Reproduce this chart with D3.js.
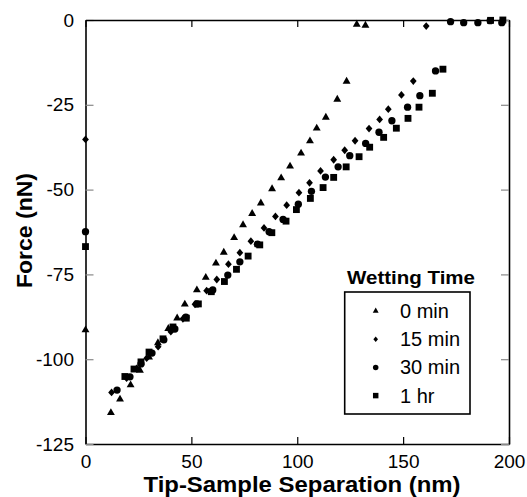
<!DOCTYPE html>
<html>
<head>
<meta charset="utf-8">
<script src="https://cdn.jsdelivr.net/npm/d3@7"></script>
<style>
  body { margin: 0; background: #fff; }
  text { font-family: "Liberation Sans", Arial, sans-serif; }
</style>
</head>
<body>
<div id="chart"></div>
<script>
// tick values
const xTicks = [0, 50, 100, 150, 200];
const yTicks = [0, -25, -50, -75, -100, -125];

// series: [separation nm, force nN]
const min0 = [[0,-91.4],[12.0,-115.8],[16.3,-111.8],[21.3,-107.6],[25.7,-103.3],[30.0,-99.4],[34.2,-95.2],[39.1,-91.0],[43.3,-87.9],[46.9,-83.8],[52.6,-79.6],[56.8,-75.9],[61.6,-71.7],[65.3,-68.5],[70.2,-64.2],[74.4,-60.4],[78.7,-57.1],[82.8,-54.0],[88.1,-49.8],[92.4,-46.6],[96.6,-43.1],[101.8,-39.3],[106.0,-35.7],[109.2,-31.9],[113.5,-28.7],[118.9,-23.4],[123.3,-18.1],[128.1,-1.3],[132.2,-1.6]];
const min15 = [[0,-35.2],[12.3,-109.8],[19.4,-105.6],[24.2,-102.7],[28.9,-99.7],[34.3,-96.3],[40.3,-91.9],[46.0,-88.1],[51.7,-83.8],[57.2,-79.8],[62.0,-76.5],[67.5,-72.0],[72.9,-68.6],[78.1,-65.2],[84.3,-61.3],[89.7,-57.9],[95.0,-54.6],[100.8,-50.9],[105.8,-48.0],[111.0,-44.5],[117.2,-41.2],[122.4,-38.4],[127.3,-35.6],[133.9,-32.0],[138.9,-29.3],[143.0,-26.3],[149.2,-22.1],[154.8,-18.0],[160.9,-1.8]];
const min30 = [[0,-62.4],[14.9,-109.1],[21.0,-105.2],[26.2,-101.4],[31.4,-98.2],[37.0,-94.3],[42.2,-91.1],[47.4,-87.6],[52.6,-83.7],[60.1,-79.6],[67.2,-75.2],[72.9,-71.3],[81.2,-66.1],[86.7,-62.4],[93.3,-58.8],[100.5,-54.3],[106.7,-50.5],[113.3,-46.3],[119.3,-43.3],[124.8,-40.0],[132.3,-36.4],[138.6,-33.1],[144.7,-29.7],[152.1,-25.7],[157.9,-22.3],[165.3,-15.0],[172.4,-0.5],[178.6,-0.8],[185.3,-0.8],[191.1,-0.2],[196.6,-0.8]];
const hr1 = [[0,-66.8],[18.6,-105.1],[22.9,-102.9],[26.2,-100.8],[30.0,-97.9],[36.6,-94.0],[41.3,-90.5],[47.6,-87.9],[53.3,-83.7],[59.4,-80.1],[65.6,-77.1],[71.3,-73.5],[76.8,-69.6],[82.3,-66.3],[88.0,-62.7],[94.7,-59.3],[99.6,-55.9],[106.2,-52.6],[112.2,-49.4],[117.2,-46.4],[123.1,-43.3],[129.2,-40.3],[134.2,-37.5],[140.8,-34.6],[146.8,-31.9],[152.3,-29.0],[157.5,-25.7],[163.8,-21.6],[168.8,-14.5],[191.3,-0.1],[197.1,0]];

const legendLabels = ["0 min", "15 min", "30 min", "1 hr"];

const W = 527, H = 497;
const plotL = 85.5, plotR = 509, plotT = 20, plotB = 444;

const svg = d3.select("#chart").append("svg")
  .attr("width", W).attr("height", H);

const x = d3.scaleLinear().domain([0, 200]).range([plotL, plotR]);
const y = d3.scaleLinear().domain([-125, 0]).range([plotB, plotT]);

// custom diamond symbol
const symDiamond = {
  draw(ctx, size) {
    const r = Math.sqrt(size / 2);
    ctx.moveTo(0, -r * 1.1);
    ctx.lineTo(r * 0.95, 0);
    ctx.lineTo(0, r * 1.1);
    ctx.lineTo(-r * 0.95, 0);
    ctx.closePath();
  }
};

const series = [
  { data: min0, type: d3.symbolTriangle, size: 27, lsize: 15 },
  { data: min15, type: symDiamond, size: 25, lsize: 12 },
  { data: min30, type: d3.symbolCircle, size: 42, lsize: 24 },
  { data: hr1, type: d3.symbolSquare, size: 47, lsize: 30 }
];

// plain hyphen for negatives, like the original
const fmt = d => String(d);

// axes
const gx = svg.append("g")
  .attr("transform", "translate(0," + plotB + ")")
  .call(d3.axisBottom(x).tickValues(xTicks).tickSizeInner(-7).tickSizeOuter(0).tickPadding(10.5).tickFormat(fmt));
const gy = svg.append("g")
  .attr("transform", "translate(" + plotL + ",0)")
  .call(d3.axisLeft(y).tickValues(yTicks).tickSizeInner(-8).tickSizeOuter(0).tickPadding(11.5).tickFormat(fmt));
const gt = svg.append("g")
  .attr("transform", "translate(0," + plotT + ")")
  .call(d3.axisTop(x).tickValues(xTicks).tickSizeInner(-7).tickSizeOuter(0).tickFormat(""));
const gr = svg.append("g")
  .attr("transform", "translate(" + plotR + ",0)")
  .call(d3.axisRight(y).tickValues(yTicks).tickSizeInner(-8).tickSizeOuter(0).tickFormat(""));

[gx, gy, gt, gr].forEach(g => {
  g.select(".domain").attr("stroke", "#000").attr("stroke-width", 1.6);
  g.selectAll("text").attr("font-size", 19).attr("fill", "#000")
    .style("font-family", '"Liberation Sans", Arial, sans-serif');
});
gx.selectAll(".tick line").attr("stroke", "#000").attr("stroke-width", 1.2);
gt.selectAll(".tick line").attr("stroke", "#000").attr("stroke-width", 1.2);
gy.selectAll(".tick line").attr("stroke", "#888").attr("stroke-width", 1.2);
gr.selectAll(".tick line").attr("stroke", "#888").attr("stroke-width", 1.2);

// axis titles
svg.append("text")
  .attr("x", 302).attr("y", 492)
  .attr("text-anchor", "middle")
  .attr("font-size", 22).attr("font-weight", "bold")
  .attr("textLength", 317).attr("lengthAdjust", "spacingAndGlyphs")
  .text("Tip-Sample Separation (nm)");

svg.append("text")
  .attr("transform", "translate(32,230.5) rotate(-90)")
  .attr("text-anchor", "middle")
  .attr("font-size", 22).attr("font-weight", "bold")
  .attr("textLength", 115).attr("lengthAdjust", "spacingAndGlyphs")
  .text("Force (nN)");

// points
series.forEach(s => {
  svg.append("g").selectAll("path")
    .data(s.data)
    .enter().append("path")
    .attr("transform", d => "translate(" + x(d[0]) + "," + y(d[1]) + ")")
    .attr("d", d3.symbol().type(s.type).size(s.size))
    .attr("fill", "#000");
});

// legend
const lg = svg.append("g");
lg.append("text")
  .attr("x", 411).attr("y", 284)
  .attr("text-anchor", "middle")
  .attr("font-size", 19).attr("font-weight", "bold")
  .attr("textLength", 128).attr("lengthAdjust", "spacingAndGlyphs")
  .text("Wetting Time");
lg.append("rect")
  .attr("x", 344.7).attr("y", 292)
  .attr("width", 125.3).attr("height", 122)
  .attr("fill", "none").attr("stroke", "#000").attr("stroke-width", 1.6);

legendLabels.forEach((lab, i) => {
  const by = 318 + i * 28.2;
  lg.append("path")
    .attr("transform", "translate(375.7," + (by - 7) + ")")
    .attr("d", d3.symbol().type(series[i].type).size(series[i].lsize))
    .attr("fill", "#000");
  lg.append("text")
    .attr("x", 400).attr("y", by)
    .attr("font-size", 20)
    .text(lab);
});
</script>
</body>
</html>
